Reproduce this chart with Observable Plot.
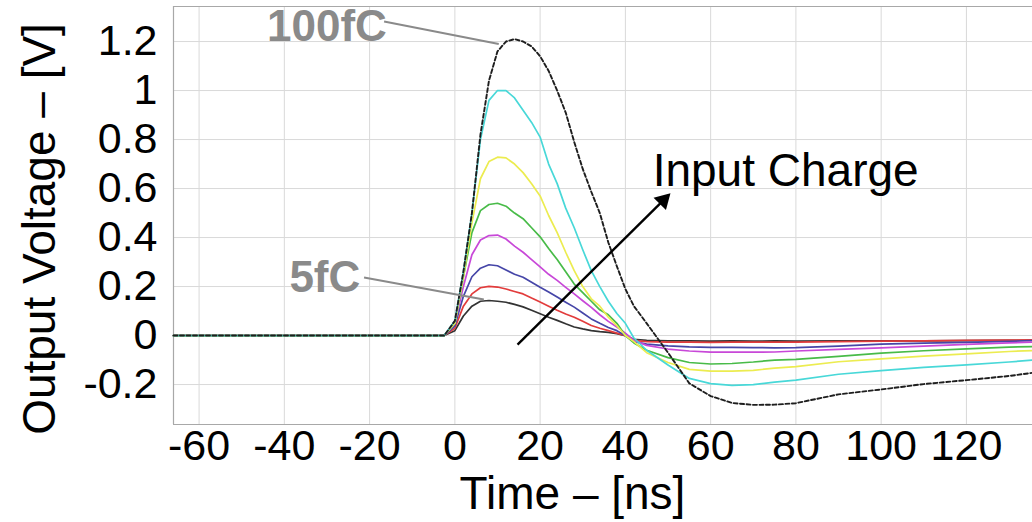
<!DOCTYPE html>
<html>
<head>
<meta charset="utf-8">
<script src="https://cdn.jsdelivr.net/npm/d3@7"></script>
<script src="https://cdn.jsdelivr.net/npm/@observablehq/plot@0.6"></script>
<style>
  html, body { margin: 0; padding: 0; background: #fff; }
  #chart { width: 1032px; height: 522px; overflow: hidden; }
</style>
</head>
<body>
<div id="chart"></div>
<script>
// ---- data ----
const times = [-66, -40, -20, -2.5, 0, 2, 4, 6, 8, 10, 12, 14, 16, 18, 20, 22, 24, 26, 28, 30, 32, 34, 36, 38, 40, 42, 45, 50, 55, 60, 65, 70, 75, 80, 90, 100, 110, 120, 130, 135.5];

const q5fC   = [0, 0, 0, 0, 0.02, 0.08, 0.12, 0.14, 0.143, 0.14, 0.136, 0.127, 0.117, 0.103, 0.089, 0.075, 0.062, 0.048, 0.035, 0.027, 0.02, 0.016, 0.013, 0.008, 0.0, -0.015, -0.02, -0.022, -0.022, -0.023, -0.022, -0.023, -0.022, -0.023, -0.022, -0.022, -0.022, -0.021, -0.02, -0.02];
const qRed   = [0, 0, 0, 0, 0.03, 0.12, 0.17, 0.195, 0.201, 0.198, 0.19, 0.18, 0.17, 0.153, 0.137, 0.12, 0.103, 0.088, 0.075, 0.058, 0.041, 0.03, 0.02, 0.01, 0.0, -0.02, -0.025, -0.027, -0.027, -0.028, -0.027, -0.027, -0.027, -0.027, -0.025, -0.023, -0.022, -0.02, -0.019, -0.018];
const qBlue  = [0, 0, 0, 0, 0.04, 0.16, 0.24, 0.275, 0.289, 0.285, 0.268, 0.25, 0.238, 0.218, 0.197, 0.178, 0.157, 0.136, 0.116, 0.092, 0.068, 0.05, 0.033, 0.02, 0.0, -0.025, -0.035, -0.042, -0.046, -0.048, -0.048, -0.049, -0.05, -0.049, -0.043, -0.035, -0.031, -0.028, -0.024, -0.02];
const qMag   = [0, 0, 0, 0, 0.05, 0.2, 0.33, 0.39, 0.408, 0.41, 0.394, 0.365, 0.34, 0.31, 0.28, 0.25, 0.225, 0.197, 0.17, 0.142, 0.115, 0.085, 0.058, 0.035, 0.01, -0.02, -0.04, -0.055, -0.063, -0.068, -0.068, -0.068, -0.067, -0.063, -0.056, -0.05, -0.043, -0.036, -0.03, -0.027];
const qGreen = [0, 0, 0, 0, 0.05, 0.24, 0.42, 0.51, 0.535, 0.54, 0.528, 0.5, 0.477, 0.44, 0.403, 0.355, 0.31, 0.26, 0.21, 0.175, 0.14, 0.105, 0.085, 0.05, 0.0, -0.03, -0.06, -0.09, -0.11, -0.116, -0.114, -0.108, -0.1, -0.097, -0.085, -0.072, -0.062, -0.054, -0.047, -0.045];
const qYel   = [0, 0, 0, 0, 0.05, 0.24, 0.46, 0.64, 0.71, 0.728, 0.725, 0.7, 0.665, 0.62, 0.57, 0.49, 0.42, 0.34, 0.265, 0.2, 0.15, 0.12, 0.075, 0.04, 0.0, -0.025, -0.07, -0.11, -0.138, -0.145, -0.145, -0.142, -0.133, -0.127, -0.107, -0.095, -0.084, -0.075, -0.065, -0.061];
const qCyan  = [0, 0, 0, 0, 0.06, 0.26, 0.5, 0.8, 0.96, 1.0, 1.0, 0.97, 0.92, 0.87, 0.81, 0.70, 0.62, 0.52, 0.44, 0.35, 0.265, 0.2, 0.14, 0.09, 0.05, -0.01, -0.06, -0.12, -0.175, -0.196, -0.203, -0.2, -0.19, -0.182, -0.158, -0.143, -0.13, -0.12, -0.108, -0.1];
const q100fC = [0, 0, 0, 0, 0.06, 0.26, 0.5, 0.82, 1.04, 1.16, 1.2, 1.21, 1.2, 1.18, 1.14, 1.08, 1.0, 0.91, 0.79, 0.68, 0.587, 0.50, 0.38, 0.283, 0.19, 0.12, 0.05, -0.07, -0.195, -0.247, -0.275, -0.283, -0.282, -0.276, -0.24, -0.22, -0.198, -0.182, -0.165, -0.152];

const seriesNames  = ["5fC", "red", "blue", "magenta", "green", "yellow", "cyan", "100fC"];
const seriesValues = [q5fC, qRed, qBlue, qMag, qGreen, qYel, qCyan, q100fC];
const seriesColors = ["#333333", "#e23c3c", "#4646a8", "#c848d8", "#48bb48", "#ecec50", "#48d8d8", "#1e1e1e"];

const xTicks = [-60, -40, -20, 0, 20, 40, 60, 80, 100, 120];
const xTickLabels = ["-60", "-40", "-20", "0", "20", "40", "60", "80", "100", "120"];
const yTicks = [-0.2, 0, 0.2, 0.4, 0.6, 0.8, 1, 1.2];
const yTickLabels = ["-0.2", "0", "0.2", "0.4", "0.6", "0.8", "1", "1.2"];
const xDomain = [-66, 135.5];
const yDomain = [-0.363, 1.343];

const xTitle = "Time – [ns]";
const yTitle = "Output Voltage – [V]";

// annotations (data coordinates)
const labelTexts = ["100fC", "5fC"];
const labelX = [-30, -30.5];
const labelY = [1.261, 0.235];
const leaderX1 = [-16.6, -21.3];
const leaderY1 = [1.282, 0.237];
const leaderX2 = [10.3, 6.8];
const leaderY2 = [1.19, 0.147];
const arrowText = "Input Charge";
const arrowTextPos = [46.4, 0.612];
const arrowFrom = [14.7, -0.037];
const arrowHead = [48.9, 0.552];

// ---- build tables ----
const rows = [];
seriesNames.forEach((s, k) => {
  times.forEach((t, i) => rows.push({series: s, t, v: seriesValues[k][i]}));
});
const solidRows = rows.filter(d => d.series !== "100fC");
const dashedRows = rows.filter(d => d.series === "100fC");
const labels = labelTexts.map((text, i) => ({text, x: labelX[i], y: labelY[i]}));
const leaders = leaderX1.map((x1, i) => ({x1, y1: leaderY1[i], x2: leaderX2[i], y2: leaderY2[i]}));

const gray = "#8a8a8a";
const font = "Liberation Sans, Arial, sans-serif";

const chart = Plot.plot({
  width: 1032,
  height: 522,
  marginLeft: 173,
  marginRight: 0,
  marginTop: 6,
  marginBottom: 98,
  style: {fontFamily: font, background: "#fff", color: "#000", overflow: "visible"},
  x: {domain: xDomain},
  y: {domain: yDomain},
  color: {domain: seriesNames, range: seriesColors},
  marks: [
    Plot.gridX(xTicks, {stroke: "#d9d9d9", strokeOpacity: 1}),
    Plot.gridY(yTicks, {stroke: "#d9d9d9", strokeOpacity: 1}),
    Plot.ruleX([xDomain[0]], {stroke: "#a8a8a8", strokeWidth: 1.2}),
    Plot.ruleY([yDomain[0], yDomain[1]], {stroke: "#a8a8a8", strokeWidth: 1.2}),
    Plot.line(solidRows, {x: "t", y: "v", z: "series", stroke: "series", strokeWidth: 1.7}),
    Plot.line(dashedRows, {x: "t", y: "v", stroke: "series", strokeWidth: 1.9, strokeDasharray: "4,2.5"}),
    Plot.axisX({ticks: xTicks, tickFormat: d => xTickLabels[xTicks.indexOf(d)], tickSize: 0, tickPadding: 5, fontSize: 43, label: null}),
    Plot.axisY({ticks: yTicks, tickFormat: d => yTickLabels[yTicks.indexOf(d)], tickSize: 0, tickPadding: 16, fontSize: 43, label: null}),
    Plot.text([yTitle], {frameAnchor: "left", textAnchor: "middle", rotate: -90, dx: -119, dy: 13.5, fontSize: 46, lineAnchor: "bottom", fill: "#000"}),
    Plot.text([xTitle], {frameAnchor: "bottom", textAnchor: "middle", dx: -30.5, dy: 84, fontSize: 46, lineAnchor: "bottom", fill: "#000"}),
    Plot.link(leaders, {x1: "x1", y1: "y1", x2: "x2", y2: "y2", stroke: gray, strokeWidth: 2}),
    Plot.text(labels, {x: "x", y: "y", text: "text", fill: gray, fontWeight: "bold", fontSize: 44}),
    Plot.text([arrowText], {x: () => arrowTextPos[0], y: () => arrowTextPos[1], textAnchor: "start", lineAnchor: "bottom", fontSize: 46, fill: "#000"}),
    Plot.link([0], {x1: () => arrowFrom[0], y1: () => arrowFrom[1], x2: () => arrowHead[0], y2: () => arrowHead[1], stroke: "#000", strokeWidth: 2.4}),
    Plot.dot([0], {x: () => arrowHead[0], y: () => arrowHead[1], symbol: "triangle", r: 6.5, rotate: 45, fill: "#000", stroke: "none"})
  ]
});
document.getElementById("chart").append(chart);
</script>
</body>
</html>
